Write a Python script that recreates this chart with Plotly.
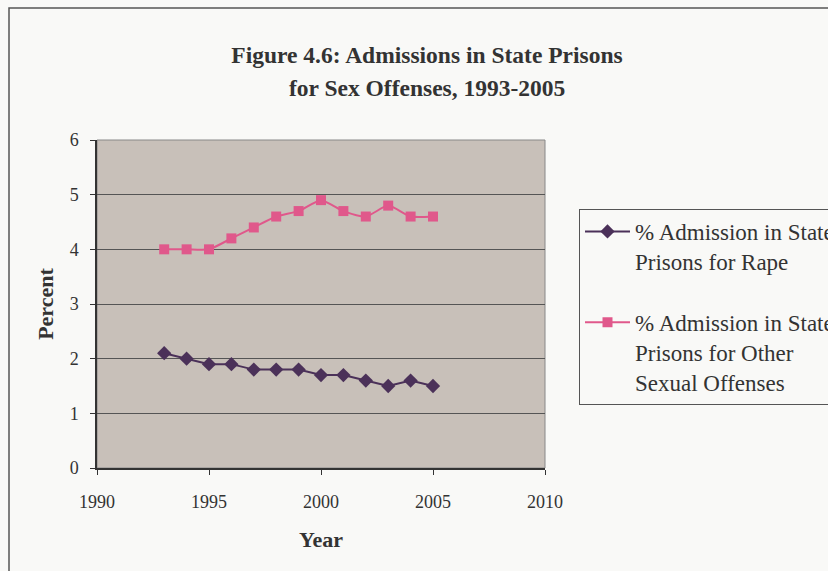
import plotly.graph_objects as go

years = [1993, 1994, 1995, 1996, 1997, 1998, 1999, 2000, 2001, 2002, 2003, 2004, 2005]
rape = [2.1, 2.0, 1.9, 1.9, 1.8, 1.8, 1.8, 1.7, 1.7, 1.6, 1.5, 1.6, 1.5]
other = [4.0, 4.0, 4.0, 4.2, 4.4, 4.6, 4.7, 4.9, 4.7, 4.6, 4.8, 4.6, 4.6]
name_rape = "% Admission in State<br>Prisons for Rape"
name_other = "% Admission in State<br>Prisons for Other<br>Sexual Offenses"
title_line1 = "Figure 4.6: Admissions in State Prisons"
title_line2 = "for Sex Offenses, 1993-2005"

W, H = 828, 571
L, R, T, B = 97, 283, 140, 103
FONT = "Liberation Serif, Times New Roman, serif"
TXT = "#333333"

fig = go.Figure()
fig.add_trace(go.Scatter(
    x=years, y=rape, name=name_rape, mode="lines+markers", legendgroup="a",
    line=dict(color="#4b3159", width=2),
    marker=dict(symbol="diamond", size=11, color="#4b3159"),
))
fig.add_trace(go.Scatter(
    x=years, y=other, name=name_other, mode="lines+markers", legendgroup="b",
    line=dict(color="#e0588b", width=2, shape="spline", smoothing=0.6),
    marker=dict(symbol="square", size=10, color="#e0588b"),
))

pw = W - L - R
ph = H - T - B
def px_x(p):
    return (p - L) / pw
def px_y(p):
    return (H - B - p) / ph

fig.update_layout(
    width=W, height=H,
    margin=dict(l=L, r=R, t=T, b=B, pad=0, autoexpand=False),
    paper_bgcolor="#f9f9f7",
    plot_bgcolor="#c8c0b9",
    font=dict(family=FONT, color=TXT),
    title=dict(text="<b>" + title_line1 + "</b>", x=px_x(427), xref="paper",
               xanchor="center", y=1 - 55 / H, yanchor="middle",
               font=dict(size=23.5, family=FONT, color=TXT)),
    showlegend=True,
    legend=dict(x=579 / W, y=1 - 209 / H, xref="container", yref="container",
                xanchor="left", yanchor="top",
                bgcolor="#f9f9f7", bordercolor="#555555", borderwidth=1,
                font=dict(size=23, family=FONT, color=TXT),
                valign="top", traceorder="grouped", tracegroupgap=28,
                itemwidth=45),
    xaxis=dict(range=[1990, 2010], tickvals=[1990, 1995, 2000, 2005, 2010],
               showgrid=False, zeroline=False, showline=True, linecolor="#333333",
               linewidth=1.5, ticks="outside", ticklen=5, tickcolor="#333333",
               ticklabelstandoff=12,
               tickfont=dict(size=18, family=FONT, color=TXT),
               title=dict(text="<b>Year</b>", standoff=20,
                          font=dict(size=22, family=FONT, color=TXT))),
    yaxis=dict(range=[0, 6], tickvals=[0, 1, 2, 3, 4, 5, 6],
               showgrid=True, gridcolor="#555555", gridwidth=1,
               zeroline=False, showline=True, linecolor="#333333", linewidth=1.5,
               ticks="outside", ticklen=5, tickcolor="#333333",
               ticklabelstandoff=8,
               tickfont=dict(size=18, family=FONT, color=TXT),
               title=dict(text="<b>Percent</b>", standoff=10,
                          font=dict(size=22, family=FONT, color=TXT))),
)

fig.add_annotation(text="<b>" + title_line2 + "</b>", xref="paper", yref="paper",
                   x=px_x(427), y=px_y(88), xanchor="center", yanchor="middle",
                   showarrow=False, font=dict(size=23.5, family=FONT, color=TXT))

# outer chart frame
fig.add_shape(type="rect", xref="paper", yref="paper",
              x0=px_x(9), x1=px_x(W + 20), y0=px_y(H + 20), y1=px_y(8),
              line=dict(color="#555555", width=1.5), fillcolor="rgba(0,0,0,0)",
              layer="below")
# plot border on right/top
fig.add_shape(type="rect", xref="paper", yref="paper", x0=0, x1=1, y0=0, y1=1,
              line=dict(color="#888888", width=1), layer="below")

fig.write_html("out.html")
